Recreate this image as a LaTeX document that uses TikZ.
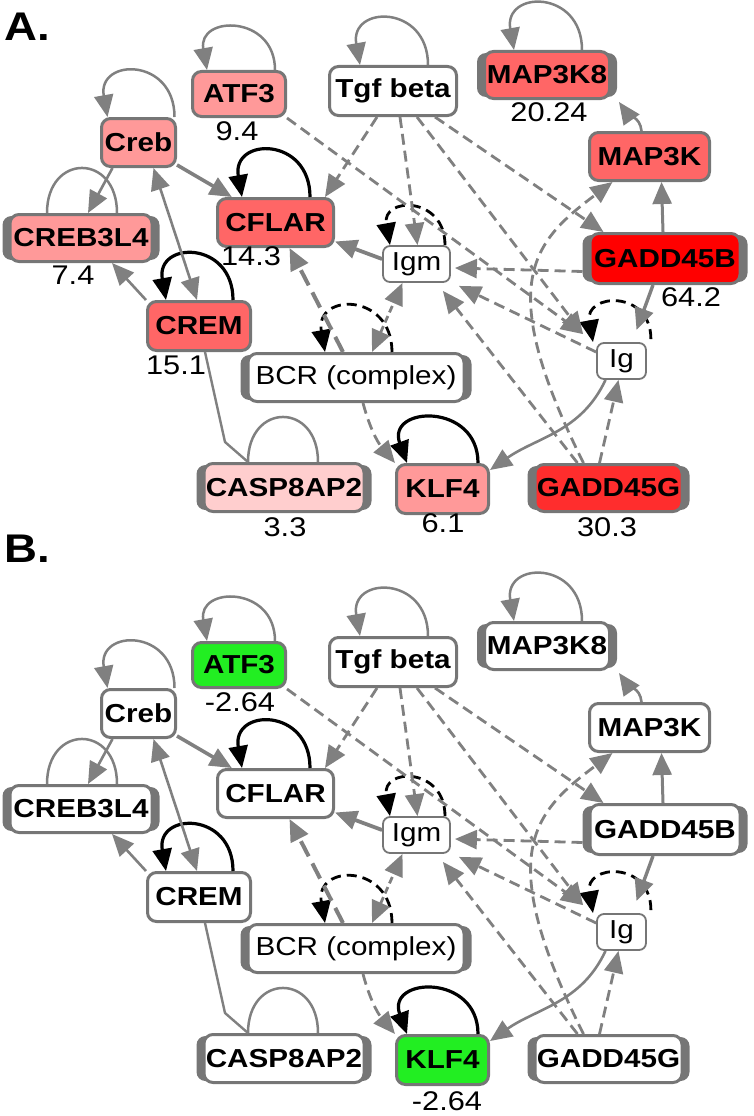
\documentclass[tikz,border=0pt]{standalone}
\usepackage{fontspec}
\newfontfamily\lab{Liberation Sans}[FakeStretch=1.14]
\usetikzlibrary{arrows.meta,backgrounds}
\definecolor{eg}{RGB}{128,128,128}
\definecolor{bdg}{RGB}{118,118,118}
\definecolor{cLight}{RGB}{255,153,153}
\definecolor{cMid}{RGB}{255,102,102}
\definecolor{cPale}{RGB}{255,206,206}
\definecolor{cRed}{RGB}{255,0,0}
\definecolor{cRedB}{RGB}{255,45,45}
\definecolor{cGreen}{RGB}{34,238,34}
\tikzset{
 x=1pt,y=1pt,
 gene/.style={draw=bdg, line width=3pt, rounded corners=9pt, inner sep=0pt, text=black,
   font=\lab\bfseries\fontsize{26}{26}\selectfont},
 cplx/.style={draw=bdg, line width=3pt, rounded corners=9pt, inner sep=0pt, fill=white,
   font=\lab\fontsize{26}{26}\selectfont},
 mol/.style={draw=bdg, line width=1.8pt, rounded corners=7pt, inner sep=0pt, fill=white,
   font=\lab\fontsize{26}{26}\selectfont},
 num/.style={inner sep=0pt, font=\lab\fontsize{27}{27}\selectfont},
 panlab/.style={inner sep=0pt, font=\lab\bfseries\fontsize{40}{40}\selectfont},
 arr/.style={-{Triangle[length=22pt,width=19pt]}},
 biarr/.style={{Triangle[length=22pt,width=19pt]}-{Triangle[length=22pt,width=19pt]}},
 gs/.style={color=eg, line width=2.6pt, arr},
 gline/.style={color=eg, line width=2.4pt},
 gd/.style={gs, line width=2.8pt, dash pattern=on 11pt off 6pt},
 gloop/.style={color=eg, line width=2.5pt, arr},
 gloopplain/.style={color=eg, line width=2.5pt},
 bloop/.style={color=black, line width=3.2pt, arr},
 bdloop/.style={color=black, line width=2.8pt, dash pattern=on 10pt off 6pt, arr},
}
\newcommand\grpbar[1]{%
 \begin{scope}[on background layer]
 \fill[bdg, rounded corners=9pt] ([shift={(-6pt,3pt)}]#1.south west) rectangle ([shift={(6pt,-3pt)}]#1.north east);
 \end{scope}}
\newcommand\drawpanel[1]{%
 % ---- nodes
 \node[gene,fATF,minimum width=93pt,minimum height=45pt] (#1atf3) at (239,-94) {ATF3};
 \node[gene,fTGF,minimum width=127pt,minimum height=49pt] (#1tgf) at (393,-91) {Tgf beta};
 \node[gene,fMAPE,minimum width=125pt,minimum height=47pt] (#1map3k8) at (547,-75) {MAP3K8};
 \node[gene,fCREB,minimum width=74pt,minimum height=48pt] (#1creb) at (138.5,-142.5) {Creb};
 \node[gene,fCFLAR,minimum width=116pt,minimum height=48pt] (#1cflar) at (275.5,-222.5) {CFLAR};
 \node[gene,fCREBL,minimum width=142pt,minimum height=47pt] (#1creb3l4) at (81,-238) {CREB3L4};
 \node[gene,fMAPK,minimum width=120pt,minimum height=48pt] (#1map3k) at (649.5,-156.5) {MAP3K};
 \node[gene,fGB,minimum width=150pt,minimum height=50pt] (#1gadd45b) at (665,-258.5) {GADD45B};
 \node[mol,minimum width=67pt,minimum height=36pt] (#1igm) at (416.5,-264) {Igm};
 \node[mol,minimum width=49pt,minimum height=36pt] (#1ig) at (621.5,-361) {Ig};
 \node[gene,fCREM,minimum width=103pt,minimum height=49pt] (#1crem) at (199,-326) {CREM};
 \node[cplx,minimum width=216pt,minimum height=48pt] (#1bcr) at (356,-377.5) {BCR (complex)};
 \node[gene,fCASP,minimum width=160pt,minimum height=48pt] (#1casp) at (284,-487.5) {CASP8AP2};
 \node[gene,fKLF,minimum width=92pt,minimum height=49pt] (#1klf4) at (442.5,-489) {KLF4};
 \node[gene,fGG,minimum width=147pt,minimum height=47pt] (#1gadd45g) at (608.5,-488) {GADD45G};
 \grpbar{#1map3k8}\grpbar{#1creb3l4}\grpbar{#1gadd45b}\grpbar{#1bcr}\grpbar{#1casp}\grpbar{#1gadd45g}
 % ---- self loops
 \draw[gloop] ([xshift=36pt]#1atf3.north) to[out=90,in=100,looseness=2.1] ([xshift=-32pt]#1atf3.north);
 \draw[gloop] ([xshift=35pt]#1tgf.north) to[out=90,in=100,looseness=2.3] ([xshift=-33pt]#1tgf.north);
 \draw[gloop] ([xshift=35pt]#1map3k8.north) to[out=90,in=100,looseness=2.3] ([xshift=-33pt]#1map3k8.north);
 \draw[gloop] ([xshift=36pt]#1creb.north) to[out=90,in=100,looseness=2.3] ([xshift=-31pt]#1creb.north);
 \draw[gloopplain] ([xshift=36pt]#1creb3l4.north) to[out=90,in=90,looseness=2.2] ([xshift=-34pt]#1creb3l4.north);
 \draw[gloopplain] ([xshift=34pt]#1casp.north) to[out=90,in=90,looseness=2.2] ([xshift=-36pt]#1casp.north);
 \draw[bloop] ([xshift=34.5pt]#1cflar.north) to[out=90,in=100,looseness=2.3] ([xshift=-33.5pt]#1cflar.north);
 \draw[bloop] ([xshift=34pt]#1crem.north) to[out=90,in=100,looseness=2.3] ([xshift=-33pt]#1crem.north);
 \draw[bloop] ([xshift=35.5pt]#1klf4.north) to[out=90,in=110,looseness=2.2] ([xshift=-35.5pt]#1klf4.north);
 \draw[bdloop] ([xshift=28.5pt]#1igm.north) to[out=90,in=100,looseness=2.3] ([xshift=-26.5pt]#1igm.north);
 \draw[bdloop] ([xshift=36pt]#1bcr.north) to[out=90,in=100,looseness=2.3] ([xshift=-31pt]#1bcr.north);
 \draw[bdloop] ([shift={(4pt,3pt)}]#1ig.north east) to[out=90,in=100,looseness=2.2] ([xshift=-28.5pt]#1ig.north);
 % ---- solid edges
 \draw[gs, line width=3.6pt] (#1creb) -- (#1cflar);
 \draw[gs] ([xshift=-26pt]#1creb.south) -- ([xshift=7pt]#1creb3l4.north);
 \draw[gs, biarr] ([xshift=15pt]#1creb.south) -- ([xshift=-2pt]#1crem.north);
 \draw[gs] (#1crem.north west) -- ([xshift=31pt]#1creb3l4.south);
 \draw[gline] ([xshift=6pt]#1crem.south) -- ++(20pt,-90pt) -- ([xshift=-36pt]#1casp.north);
 \draw[gs, line width=3.8pt] ([yshift=5pt]#1igm.west) -- ([yshift=-19pt]#1cflar.east);
 \draw[gs, line width=3pt] ([xshift=-2pt]#1gadd45b.north) -- ([xshift=12pt]#1map3k.south);
 \draw[gs] ([xshift=-8pt]#1map3k.north) to[out=95,in=-55] ([shift={(8pt,-2pt)}]#1map3k8.south east);
 \draw[gs, line width=3.4pt] ([xshift=-12pt]#1gadd45b.south) -- ([shift={(15pt,12pt)}]#1ig.north);
 \draw[gs] ([xshift=-16pt]#1ig.south) to[out=-115,in=35] ([yshift=19pt]#1klf4.east);
 % ---- dashed edges
 \draw[gd] (#1atf3.south east) -- ([shift={(-13pt,8pt)}]#1ig.north west);
 \draw[gd] ([xshift=-16pt]#1tgf.south) -- ([xshift=-10pt]#1cflar.north east);
 \draw[gd] ([xshift=7pt]#1tgf.south) -- ([xshift=1pt]#1igm.north);
 \draw[gd] ([xshift=24pt]#1tgf.south) -- ([shift={(-13pt,8pt)}]#1ig.north west);
 \draw[gd] ([xshift=42pt]#1tgf.south) -- ([xshift=15pt]#1gadd45b.north west);
 \draw[gd] ([shift={(-6pt,-13pt)}]#1gadd45b.west) -- ([shift={(4pt,-4pt)}]#1igm.east);
 \draw[gd] ([yshift=9pt]#1ig.west) -- ([shift={(8pt,-3pt)}]#1igm.south east);
 \draw[gd] ([xshift=-31pt]#1gadd45g.north) -- ([shift={(-8pt,-8pt)}]#1igm.south east);
 \draw[gd] ([xshift=-9pt]#1gadd45g.north) -- ([xshift=-3pt]#1ig.south);
 \draw[gd] ([xshift=-25pt]#1gadd45g.north) .. controls +(-90pt,180pt) and +(-80pt,-60pt) .. ([xshift=-37pt]#1map3k.south);
 \draw[gd, line width=4pt, dash pattern=on 17pt off 8pt] ([xshift=-13pt]#1bcr.north) -- ([xshift=14pt]#1cflar.south);
 \draw[gd, biarr, dash pattern=on 7pt off 4pt] ([xshift=16pt]#1bcr.north) -- ([xshift=-14pt]#1igm.south);
 \draw[gd] ([xshift=7pt]#1bcr.south) to[out=-75,in=130] (#1klf4.north west);
}
\begin{document}
\begin{tikzpicture}
\useasboundingbox (0,0) rectangle (754,-1116);
% ---------- panel A
\tikzset{fATF/.style={fill=cLight}, fTGF/.style={fill=white}, fMAPE/.style={fill=cMid},
 fCREB/.style={fill=cLight}, fCFLAR/.style={fill=cMid}, fCREBL/.style={fill=cLight},
 fMAPK/.style={fill=cMid}, fGB/.style={fill=cRed}, fCREM/.style={fill=cMid},
 fCASP/.style={fill=cPale}, fKLF/.style={fill=cLight}, fGG/.style={fill=cRedB}}
\node[panlab] (labA) at (27,-27) {A.};
\begin{scope}
\drawpanel{a}
\end{scope}
\node[num] (vA1) at (237,-131) {9.4};
\node[num] (vA2) at (549,-112) {20.24};
\node[num] (vA3) at (251,-256) {14.3};
\node[num] (vA4) at (73,-275) {7.4};
\node[num] (vA5) at (691,-297) {64.2};
\node[num] (vA6) at (176,-365) {15.1};
\node[num] (vA7) at (285,-527) {3.3};
\node[num] (vA8) at (443,-523) {6.1};
\node[num] (vA9) at (607,-527) {30.3};
% ---------- panel B
\tikzset{fATF/.style={fill=cGreen}, fTGF/.style={fill=white}, fMAPE/.style={fill=white},
 fCREB/.style={fill=white}, fCFLAR/.style={fill=white}, fCREBL/.style={fill=white},
 fMAPK/.style={fill=white}, fGB/.style={fill=white}, fCREM/.style={fill=white},
 fCASP/.style={fill=white}, fKLF/.style={fill=cGreen}, fGG/.style={fill=white}}
\node[panlab] (labB) at (27,-549) {B.};
\begin{scope}[yshift=-571pt]
\drawpanel{b}
\end{scope}
\node[num] (vB1) at (240,-702) {-2.64};
\node[num] (vB2) at (447,-1101) {-2.64};
\end{tikzpicture}
\end{document}
